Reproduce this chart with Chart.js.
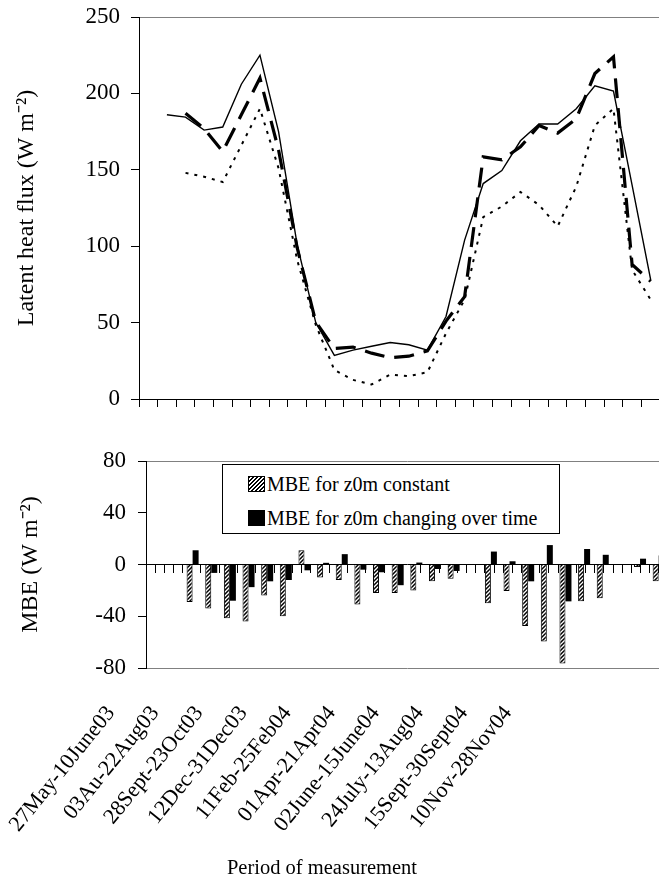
<!DOCTYPE html>
<html>
<head>
<meta charset="utf-8">
<script src="https://cdn.jsdelivr.net/npm/chart.js@4.4.1/dist/chart.umd.min.js"></script>
<style>
  body { margin: 0; width: 659px; height: 882px; overflow: hidden; position: relative; background: #fff; }
  canvas { position: absolute; left: 0; }
  #mbeLegend {
    position: absolute; left: 222px; top: 464px; width: 336px; height: 66px; padding-top: 2px;
    box-sizing: content-box; border: 1px solid #000; background: #fff;
    font: 20px "Liberation Serif", "Times New Roman", serif; color: #000;
  }
  #mbeLegend .row { display: flex; align-items: center; height: 34px; padding-left: 25px; }
  #mbeLegend .swatch { width: 15px; height: 14px; border: 1px solid #000; margin-right: 2px; flex: none; }
  #mbeLegend .hatch { background: repeating-linear-gradient(135deg, #000 0 1.4px, #fff 1.4px 2.8px); }
  #mbeLegend .solid { background: #000; }
  #xTitle {
    position: absolute; left: 0; top: 856px; width: 644px; text-align: center;
    font: 20.5px "Liberation Serif", "Times New Roman", serif; color: #000;
  }
</style>
</head>
<body>
<canvas id="fluxChart" width="660" height="442" style="top:-13px"></canvas>
<canvas id="mbeChart" width="668" height="267" style="top:431px"></canvas>
<canvas id="periodAxis" width="659" height="212" style="top:670px"></canvas>
<div id="mbeLegend"></div>
<div id="xTitle">Period of measurement</div>
<script>
// 28 measurement periods; only some of them are named on the axis
const periods = Array.from({ length: 28 }, (_, i) => i + 1);
const periodLabels = ['27May-10June03', '03Au-22Aug03', '28Sept-23Oct03', '12Dec-31Dec03', '11Feb-25Feb04',
    '01Apr-21Apr04', '02June-15June04', '24July-13Aug04', '15Sept-30Sept04', '10Nov-28Nov04'];

// latent heat flux, W m-2
const measured = [null, 186, 184.5, 176, 178, 206, 225, 175, 101, 50, 28.5, 32, 34.5, 37, 35.5, 32,
    54, 104, 141, 149.5, 169, 180, 180, 190, 205, 201.5, 140, 78];
const z0mChanging = [null, null, 187, 177, 162, 186, 210, 163, 99, 50.5, 33, 34, 30, 27, 28, 31.5,
    51, 67, 158.5, 156.5, 165, 179, 174, 183.5, 213, 224, 88, 77];
const z0mConstant = [null, null, 148, 145.5, 142, 166, 190, 151, 91, 48.5, 19, 12.5, 9.5, 16, 15, 17.5,
    43, 65, 119, 126, 135.5, 127, 113, 139, 179, 190, 84.5, 65];

// mean bias error, W m-2
const mbeConstant = [null, null, -29, -34, -41.5, -44, -24, -40, 11, -10, -12, -31, -22, -22, -20, -13,
    -11, null, -30, -20.5, -47.5, -59.5, -76.5, -28.5, -26, null, -2, -13];
const mbeChanging = [null, null, 11, -6.5, -28, -17.5, -13, -12, -4.5, 1.3, 8, -4, -6, -16, 1.5, -3.5,
    -5, null, 10, 2.5, -13, 15, -28.5, 12, 7.5, null, 4.5, 7];

Chart.defaults.font.family = '"Liberation Serif", "Times New Roman", serif';
Chart.defaults.font.size = 23;
Chart.defaults.color = '#000';

const noGrid = 'rgba(0,0,0,0)';

function hatchPattern() {
    const c = document.createElement('canvas');
    c.width = c.height = 4;
    const g = c.getContext('2d');
    g.fillStyle = '#fff';
    g.fillRect(0, 0, 4, 4);
    g.strokeStyle = '#000';
    g.lineWidth = 1.5;
    g.beginPath();
    g.moveTo(-1, 5); g.lineTo(5, -1);
    g.moveTo(-1, 1); g.lineTo(1, -1);
    g.moveTo(3, 5); g.lineTo(5, 3);
    g.stroke();
    return g.createPattern(c, 'repeat');
}

new Chart(document.getElementById('fluxChart'), {
    type: 'line',
    data: {
        labels: periods,
        datasets: [{
            label: 'Measured',
            data: measured,
            borderColor: '#000',
            borderWidth: 1.4
        }, {
            label: 'z0m changing over time',
            data: z0mChanging,
            borderColor: '#000',
            borderWidth: 3.2,
            borderDash: [20, 10]
        }, {
            label: 'z0m constant',
            data: z0mConstant,
            borderColor: '#000',
            borderWidth: 2,
            borderDash: [3, 6]
        }]
    },
    options: {
        responsive: false,
        animation: false,
        layout: { padding: { top: 30, right: 0, bottom: 0, left: 0 } },
        elements: { point: { radius: 0 }, line: { tension: 0 } },
        plugins: { legend: { display: false }, tooltip: { enabled: false } },
        scales: {
            x: {
                offset: true,
                grid: { offset: true, drawOnChartArea: false, tickLength: 8, color: '#000' },
                border: { color: '#000' },
                ticks: { display: false },
                afterFit: s => { s.height = 30; }
            },
            y: {
                min: 0,
                max: 250,
                ticks: { stepSize: 50, padding: 11 },
                grid: {
                    color: c => c.tick.value === 250 ? '#808080' : noGrid,
                    tickColor: '#000',
                    tickLength: 8
                },
                border: { color: '#000' },
                title: {
                    display: true, text: 'Latent heat flux (W m⁻²)', font: { size: 24 },
                    padding: { top: 12, bottom: 0 }
                },
                afterFit: s => { s.width = 139; }
            }
        }
    }
});

const mbeChart = new Chart(document.getElementById('mbeChart'), {
    type: 'bar',
    data: {
        labels: periods,
        datasets: [{
            label: 'MBE for z0m constant',
            data: mbeConstant,
            xAxisID: 'x',
            backgroundColor: hatchPattern(),
            borderColor: '#000',
            borderWidth: 1
        }, {
            label: 'MBE for z0m changing over time',
            data: mbeChanging,
            xAxisID: 'x',
            backgroundColor: '#000',
            borderWidth: 0
        }]
    },
    options: {
        responsive: false,
        animation: false,
        layout: { padding: { top: 30, right: 0, bottom: 30, left: 0 } },
        datasets: { bar: { categoryPercentage: 0.644, barPercentage: 1 } },
        plugins: { legend: { display: false }, tooltip: { enabled: false } },
        scales: {
            x: { display: false },
            xt: {
                type: 'linear',
                axis: 'x',
                position: { y: 0 },
                min: -0.5,
                max: 27.5,
                z: 1,
                ticks: { display: false, stepSize: 0.5, maxTicksLimit: 100 },
                grid: { drawOnChartArea: false, tickLength: 8, color: '#000' },
                border: { color: '#000' },
                afterFit: s => { s.height = 0; }
            },
            y: {
                min: -80,
                max: 80,
                ticks: { stepSize: 20, padding: 12 },
                grid: {
                    color: c => Math.abs(c.tick.value) === 80 ? '#808080' : noGrid,
                    tickColor: '#000',
                    tickLength: 8
                },
                border: { color: '#000' },
                title: {
                    display: true, text: 'MBE (W m⁻²)', font: { size: 24 },
                    padding: { top: 16, bottom: 0 }
                },
                afterFit: s => { s.width = 146; }
            }
        }
    }
});

// legend box drawn inside the MBE plot
const legendBox = document.getElementById('mbeLegend');
mbeChart.data.datasets.forEach((ds, i) => {
    const row = document.createElement('div');
    row.className = 'row';
    const sw = document.createElement('span');
    sw.className = 'swatch ' + (i === 0 ? 'hatch' : 'solid');
    row.appendChild(sw);
    row.appendChild(document.createTextNode(ds.label));
    legendBox.appendChild(row);
});

// the period labels sit on their own strip below the MBE plot
new Chart(document.getElementById('periodAxis'), {
    type: 'line',
    data: { labels: periodLabels, datasets: [] },
    options: {
        responsive: false,
        animation: false,
        layout: { padding: { top: 0, right: 151, bottom: 0, left: 111 } },
        plugins: { legend: { display: false }, tooltip: { enabled: false } },
        scales: {
            x: {
                offset: false,
                grid: { display: false, drawTicks: false },
                border: { display: false },
                ticks: { autoSkip: false, minRotation: 51, maxRotation: 51, padding: 0, font: { size: 22 } },
                afterFit: s => { s.height = 181; }
            },
            y: { display: false }
        }
    }
});
</script>
</body>
</html>
